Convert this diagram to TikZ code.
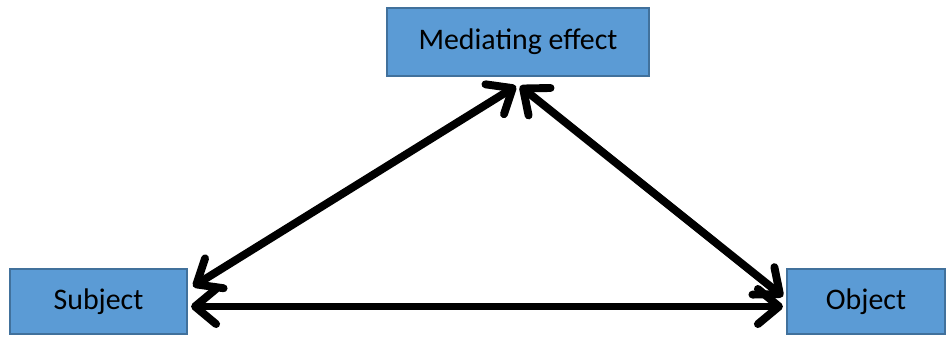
\documentclass[tikz,border=0pt]{standalone}
\usepackage{fontspec}
\setmainfont{Carlito}
\usetikzlibrary{arrows.meta, positioning}

\begin{document}
\begin{tikzpicture}[
    block/.style={rectangle, draw={rgb,255:red,65;green,113;blue,156}, line width=1.2pt, fill={rgb,255:red,91;green,155;blue,213}, inner sep=0pt, font=\fontsize{17}{20}\selectfont},
    line/.style={draw, {Straight Barb[length=12pt, width=20pt, line cap=round, line join=round]}-{Straight Barb[length=12pt, width=20pt, line cap=round, line join=round]}, line width=4.5pt}
]
    \useasboundingbox (0,0) rectangle (19,6.72);
    \node [block, minimum width=5.24cm, minimum height=1.36cm] (med) at (10.36,5.88) {Mediating effect};
    \node [block, minimum width=3.54cm, minimum height=1.3cm] (subject) at (1.97,0.69) {Subject};
    \node [block, minimum width=3.16cm, minimum height=1.3cm] (object) at (17.32,0.69) {Object};

    \path [line] ([xshift=0.1cm, yshift=0.3cm]subject.east) -- ([xshift=-0.04cm, yshift=-0.18cm]med.south);
    \path [line] ([xshift=0.04cm, yshift=-0.18cm]med.south) -- ([xshift=-0.06cm, yshift=0.1cm]object.west);
    \path [line] ([xshift=0.06cm, yshift=-0.1cm]subject.east) -- ([xshift=-0.06cm, yshift=-0.1cm]object.west);
\end{tikzpicture}
\end{document}
